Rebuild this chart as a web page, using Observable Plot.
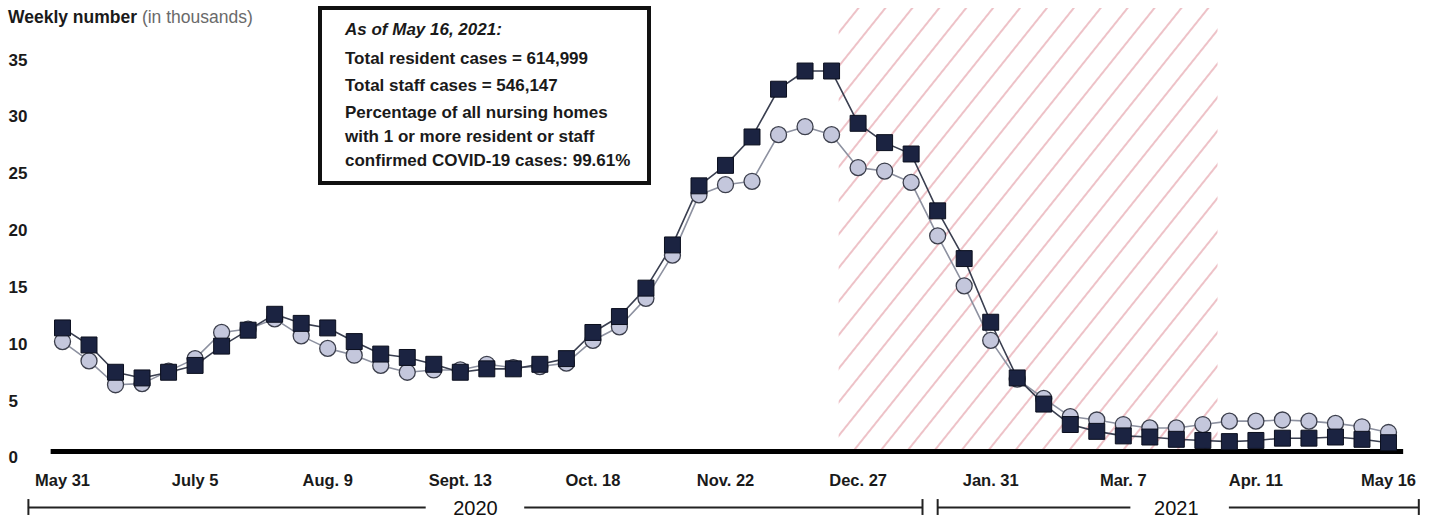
<!DOCTYPE html>
<html>
<head>
<meta charset="utf-8">
<script src="https://cdn.jsdelivr.net/npm/d3@7"></script>
<script src="https://cdn.jsdelivr.net/npm/@observablehq/plot@0.6"></script>
<style>
  body { margin: 0; background: #fff; font-family: "Liberation Sans", Arial, sans-serif; }
  #wrap { position: relative; width: 1437px; height: 518px; overflow: hidden; }
  #title { position: absolute; left: 8px; top: 8px; font-size: 17.5px; line-height: 18px; color: #1a1a1a; white-space: nowrap; }
  #title b { font-weight: bold; }
  #title span { color: #6a6a6a; }
  #box { position: absolute; left: 318px; top: 6px; width: 333px; height: 179px; box-sizing: border-box;
         border: 4px solid #111; background: #fff; }
  #box div { position: absolute; left: 23px; font-size: 17px; line-height: 18px; font-weight: bold; color: #1a1a1a; white-space: nowrap; }
</style>
</head>
<body>
<div id="wrap">
  <div id="chart"></div>
  <div id="title"><b>Weekly number</b> <span>(in thousands)</span></div>
  <div id="box">
    <div style="top:11px;font-style:italic;">As of May 16, 2021:</div>
    <div style="top:40px;">Total resident cases = 614,999</div>
    <div style="top:67px;">Total staff cases = 546,147</div>
    <div style="top:94px;">Percentage of all nursing homes</div>
    <div style="top:118px;">with 1 or more resident or staff</div>
    <div style="top:142px;">confirmed COVID-19 cases: 99.61%</div>
  </div>
</div>
<script>
// ---- data (weekly numbers, in thousands) ----
const firstWeek = "2020-05-31";
const residents = [11.4, 9.9, 7.5, 7.0, 7.5, 8.1, 9.8, 11.2, 12.6, 11.8,
                   11.4, 10.2, 9.1, 8.8, 8.2, 7.5, 7.8, 7.8, 8.2, 8.7,
                   11.0, 12.4, 14.9, 18.7, 23.9, 25.7, 28.2, 32.4, 34.0, 34.0,
                   29.4, 27.7, 26.7, 21.7, 17.5, 11.9, 7.0, 4.7, 2.9, 2.3,
                   1.9, 1.8, 1.6, 1.5, 1.4, 1.5, 1.7, 1.7, 1.8, 1.6, 1.3];
const staff =     [10.2, 8.5, 6.4, 6.5, 7.6, 8.7, 11.0, 11.3, 12.2, 10.7,
                   9.6, 9.0, 8.1, 7.5, 7.7, 7.7, 8.2, 7.9, 8.0, 8.3,
                   10.3, 11.5, 14.0, 17.8, 23.1, 24.0, 24.3, 28.4, 29.1, 28.4,
                   25.5, 25.2, 24.2, 19.5, 15.1, 10.3, 6.9, 5.2, 3.6, 3.3,
                   2.9, 2.6, 2.6, 2.9, 3.2, 3.2, 3.3, 3.2, 3.0, 2.7, 2.2];
const xTickDates = ["2020-05-31","2020-07-05","2020-08-09","2020-09-13","2020-10-18","2020-11-22",
                    "2020-12-27","2021-01-31","2021-03-07","2021-04-11","2021-05-16"];
const xTickLabels = ["May 31","July 5","Aug. 9","Sept. 13","Oct. 18","Nov. 22",
                     "Dec. 27","Jan. 31","Mar. 7","Apr. 11","May 16"];
const yTicks = [0, 5, 10, 15, 20, 25, 30, 35];
const hatchStart = "2020-12-22", hatchEnd = "2021-04-01";
const baselineStart = "2020-05-28", baselineEnd = "2021-05-20";
const yearLabels = ["2020", "2021"];
const yearLabelDates = ["2020-09-17", "2021-03-21"];
const yearSegStarts = ["2020-05-22", "2020-09-30", "2021-01-17", "2021-04-04"];
const yearSegEnds   = ["2020-09-04", "2021-01-13", "2021-03-09", "2021-05-24"];
const yearBracketEnds = ["2020-05-22", "2021-01-13", "2021-01-17", "2021-05-24"];

// ---- build tables ----
const parse = s => new Date(s + "T00:00:00Z");
const start = parse(firstWeek);
const data = residents.map((r, i) => ({ date: d3.utcDay.offset(start, 7 * i), residents: r, staff: staff[i] }));
const labelMap = new Map(xTickDates.map((d, i) => [+parse(d), xTickLabels[i]]));
const segs = yearSegStarts.map((s, i) => ({ x1: parse(s), x2: parse(yearSegEnds[i]) }));
const years = yearLabels.map((t, i) => ({ date: parse(yearLabelDates[i]), label: t }));

const chart = Plot.plot({
  width: 1437,
  height: 518,
  marginLeft: 62,
  marginRight: 49,
  marginTop: 8,
  marginBottom: 61,
  style: { fontFamily: "'Liberation Sans', Arial, sans-serif", background: "white", color: "#1a1a1a" },
  x: { type: "utc", domain: [parse(firstWeek), parse(xTickDates[xTickDates.length - 1])] },
  y: { domain: [0, 39.5] },
  marks: [
    Plot.rect([{ a: parse(hatchStart), b: parse(hatchEnd) }], { x1: "a", x2: "b", fill: "url(#hatch)", insetBottom: 7 }),
    Plot.ruleY([0], { x1: parse(baselineStart), x2: parse(baselineEnd), dy: -6, stroke: "#000", strokeWidth: 5 }),
    Plot.axisY({ ticks: yTicks, tickSize: 0, tickPadding: 0, textAnchor: "start", dx: -54, dy: 0.5,
                 fontSize: 17, fontWeight: "bold", fill: "#1a1a1a", label: null }),
    Plot.axisX({ ticks: xTickDates.map(parse), tickFormat: d => labelMap.get(+d), tickSize: 0, tickPadding: 17,
                 fontSize: 16.5, fontWeight: "bold", fill: "#1a1a1a", label: null }),
    Plot.ruleY(segs, { x1: "x1", x2: "x2", y: 0, dy: 50, stroke: "#222", strokeWidth: 2 }),
    Plot.ruleX(yearBracketEnds.map(parse), { x: d => d, y1: -3.7, y2: -5.1, stroke: "#222", strokeWidth: 2 }),
    Plot.text(years, { x: "date", y: 0, dy: 51, text: "label", fontSize: 20, fill: "#111" }),
    Plot.line(data, { x: "date", y: "staff", stroke: "#8d91a0", strokeWidth: 1.6 }),
    Plot.line(data, { x: "date", y: "residents", stroke: "#3a3f50", strokeWidth: 1.6 }),
    Plot.dot(data, { x: "date", y: "staff", r: 8, fill: "#c4c7dc", stroke: "#3c3f4c", strokeWidth: 1.3 }),
    Plot.dot(data, { x: "date", y: "residents", symbol: "square", r: 9, fill: "#1b2341", stroke: "#0b0f1e", strokeWidth: 1 })
  ]
});

const ns = "http://www.w3.org/2000/svg";
const defs = document.createElementNS(ns, "defs");
defs.innerHTML = '<pattern id="hatch" patternUnits="userSpaceOnUse" width="21" height="40" patternTransform="rotate(38.7)">' +
                 '<line x1="3" y1="-5" x2="3" y2="45" stroke="#df8f99" stroke-width="1.1"/></pattern>';
chart.insertBefore(defs, chart.firstChild);
document.getElementById("chart").appendChild(chart);
</script>
</body>
</html>
